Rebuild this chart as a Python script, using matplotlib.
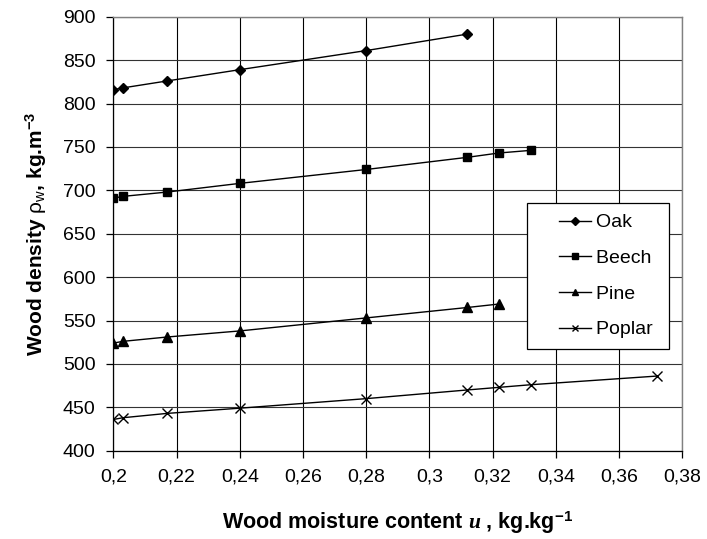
import matplotlib
matplotlib.use("Agg")
import matplotlib.pyplot as plt
from matplotlib.legend_handler import HandlerLine2D
from matplotlib.ticker import FuncFormatter

# Wood moisture content u [kg/kg] and density [kg/m3]
oak_u = [0.200, 0.203, 0.217, 0.240, 0.280, 0.312]
oak_rho = [816, 818, 826, 839, 861, 880]

beech_u = [0.200, 0.203, 0.217, 0.240, 0.280, 0.312, 0.322, 0.332]
beech_rho = [691, 693, 698, 708, 724, 738, 743, 746]

pine_u = [0.200, 0.203, 0.217, 0.240, 0.280, 0.312, 0.322]
pine_rho = [524, 526, 531, 538, 553, 565, 569]

poplar_u = [0.200, 0.203, 0.217, 0.240, 0.280, 0.312, 0.322, 0.332, 0.372]
poplar_rho = [436, 438, 443, 449, 460, 470, 473, 476, 486]

x_ticks = [0.20, 0.22, 0.24, 0.26, 0.28, 0.30, 0.32, 0.34, 0.36, 0.38]
y_ticks = [400, 450, 500, 550, 600, 650, 700, 750, 800, 850, 900]

plt.rcParams["font.family"] = ["Liberation Sans", "DejaVu Sans"]
plt.rcParams["mathtext.fontset"] = "custom"
plt.rcParams["mathtext.rm"] = "Liberation Sans"
plt.rcParams["mathtext.bf"] = "Liberation Sans:bold"
plt.rcParams["mathtext.it"] = "Liberation Serif:italic:bold"


class ShiftedHandler(HandlerLine2D):
    """Legend line handle with some blank space on its left (Excel-like)."""

    def __init__(self, shift=15, **kw):
        super().__init__(**kw)
        self.shift = shift

    def create_artists(self, legend, orig_handle, xdescent, ydescent,
                       width, height, fontsize, trans):
        return super().create_artists(legend, orig_handle,
                                      xdescent - self.shift, ydescent,
                                      width - self.shift, height,
                                      fontsize, trans)


fig = plt.figure(figsize=(7.07, 5.39), dpi=100)
ax = fig.add_axes([0.1605, 0.1638, 0.8045, 0.8052])

series = [
    ("Oak", oak_u, oak_rho, "D", 5.5),
    ("Beech", beech_u, beech_rho, "s", 5.5),
    ("Pine", pine_u, pine_rho, "^", 6.5),
    ("Poplar", poplar_u, poplar_rho, "x", 6.5),
]
handles = []
for name, u, rho, mk, ms in series:
    line, = ax.plot(u, rho, color="black", lw=1.0, marker=mk, ms=ms,
                    mfc="black", mec="black", mew=1.0, label=name + " ",
                    zorder=3)
    handles.append(line)

ax.set_xlim(0.2, 0.38)
ax.set_ylim(400, 900)
ax.set_xticks(x_ticks)
ax.set_yticks(y_ticks)
ax.xaxis.set_major_formatter(FuncFormatter(lambda v, p: f"{v:g}".replace(".", ",")))

ax.grid(True, axis="x", color="black", lw=0.8, zorder=0)
ax.grid(True, axis="y", color="#333333", lw=0.8, zorder=0)
ax.set_axisbelow(True)

for side in ("top", "right"):
    ax.spines[side].set_color("#808080")
    ax.spines[side].set_linewidth(1.0)
for side in ("left", "bottom"):
    ax.spines[side].set_color("black")
    ax.spines[side].set_linewidth(0.9)

ax.tick_params(axis="both", direction="out", length=5, width=0.9,
               labelsize=14, color="black")
ax.tick_params(axis="y", pad=8)
ax.tick_params(axis="x", pad=8)

ax.set_xlabel(r"Wood moisture content $\mathit{u}$ , kg.kg$^{\mathbf{-1}}$",
              fontsize=15.5, fontweight="bold", labelpad=17)
ax.set_ylabel(r"Wood density $\mathrm{\rho_w}$, kg.m$^{\mathbf{-3}}$",
              fontsize=15, fontweight="bold", labelpad=10)

leg = ax.legend(handles=handles, loc="lower right",
                bbox_to_anchor=(0.976, 0.234), borderaxespad=0,
                fontsize=14, frameon=True, fancybox=False,
                handlelength=2.72, handletextpad=0.25, labelspacing=0.93,
                borderpad=0.55, markerscale=0.75,
                handler_map={h: ShiftedHandler() for h in handles})
leg.get_frame().set_edgecolor("black")
leg.get_frame().set_linewidth(0.9)
leg.get_frame().set_alpha(1)

fig.savefig("out.png", dpi=100)
